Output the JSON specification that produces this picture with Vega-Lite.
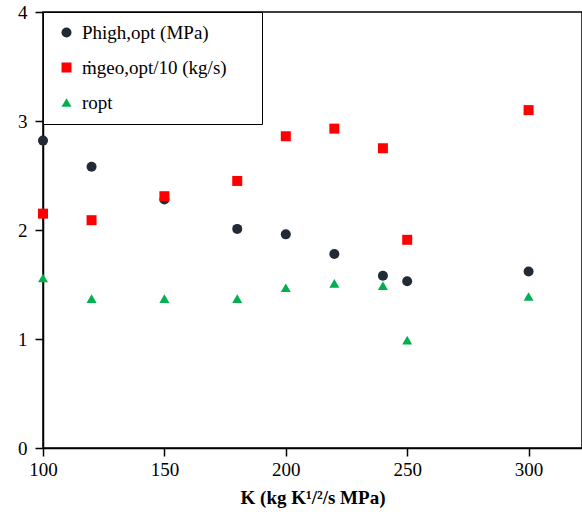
{
  "$schema": "https://vega.github.io/schema/vega-lite/v6.json",
  "autosize": "none",
  "width": 539,
  "height": 436,
  "padding": {"left": 43, "top": 12, "right": 0, "bottom": 71},
  "background": "white",
  "config": {
    "font": "Liberation Serif",
    "view": {"stroke": "black", "strokeWidth": 1.5}
  },
  "data": {
    "values": [
      {"K": 100, "series": "P", "value": 2.82},
      {"K": 120, "series": "P", "value": 2.58},
      {"K": 150, "series": "P", "value": 2.28},
      {"K": 180, "series": "P", "value": 2.01},
      {"K": 200, "series": "P", "value": 1.96},
      {"K": 220, "series": "P", "value": 1.78},
      {"K": 240, "series": "P", "value": 1.58},
      {"K": 250, "series": "P", "value": 1.53},
      {"K": 300, "series": "P", "value": 1.62},
      {"K": 100, "series": "m", "value": 2.15},
      {"K": 120, "series": "m", "value": 2.09},
      {"K": 150, "series": "m", "value": 2.31},
      {"K": 180, "series": "m", "value": 2.45},
      {"K": 200, "series": "m", "value": 2.86},
      {"K": 220, "series": "m", "value": 2.93},
      {"K": 240, "series": "m", "value": 2.75},
      {"K": 250, "series": "m", "value": 1.91},
      {"K": 300, "series": "m", "value": 3.10},
      {"K": 100, "series": "r", "value": 1.56},
      {"K": 120, "series": "r", "value": 1.37},
      {"K": 150, "series": "r", "value": 1.37},
      {"K": 180, "series": "r", "value": 1.37},
      {"K": 200, "series": "r", "value": 1.47},
      {"K": 220, "series": "r", "value": 1.51},
      {"K": 240, "series": "r", "value": 1.49},
      {"K": 250, "series": "r", "value": 0.99},
      {"K": 300, "series": "r", "value": 1.39}
    ]
  },
  "mark": {"type": "point", "filled": true, "opacity": 1, "size": 100},
  "encoding": {
    "x": {
      "field": "K", "type": "quantitative",
      "scale": {"domain": [100, 322], "nice": false, "zero": false},
      "axis": {
        "values": [100, 150, 200, 250, 300],
        "title": "K (kg K¹/²/s MPa)",
        "titleFont": "Liberation Serif", "titleFontSize": 19, "titleFontWeight": "bold", "titleColor": "black",
        "titlePadding": 9,
        "labelFont": "Liberation Serif", "labelFontSize": 19, "labelColor": "black", "labelPadding": 4,
        "labelFlush": false,
        "grid": false, "domainColor": "black", "domainWidth": 1.5,
        "tickColor": "black", "tickWidth": 1.5, "tickSize": 8
      }
    },
    "y": {
      "field": "value", "type": "quantitative",
      "scale": {"domain": [0, 4], "nice": false},
      "axis": {
        "values": [0, 1, 2, 3, 4],
        "title": null,
        "labelFont": "Liberation Serif", "labelFontSize": 19, "labelColor": "black", "labelPadding": 8,
        "labelFlush": false,
        "grid": false, "domainColor": "black", "domainWidth": 1.5,
        "tickColor": "black", "tickWidth": 1.5, "tickSize": 8
      }
    },
    "color": {
      "field": "series", "type": "nominal",
      "scale": {"domain": ["P", "m", "r"], "range": ["#222a35", "#ff0000", "#00b050"]},
      "legend": {
        "title": null,
        "orient": "top-left",
        "offset": 0,
        "labelExpr": "datum.value == 'P' ? 'Phigh,opt (MPa)' : datum.value == 'm' ? 'ṁgeo,opt/10 (kg/s)\u00a0\u00a0\u00a0\u00a0\u00a0\u200b' : 'ropt'",
        "labelFont": "Liberation Serif", "labelFontSize": 19, "labelColor": "black",
        "labelOffset": 6, "labelLimit": 400,
        "symbolOffset": 3,
        "symbolSize": 100, "rowPadding": 15, "padding": 11,
        "strokeColor": "black", "fillColor": "white", "symbolOpacity": 1
      }
    },
    "shape": {
      "field": "series", "type": "nominal",
      "scale": {"domain": ["P", "m", "r"], "range": ["circle", "square", "triangle-up"]},
      "legend": null
    }
  }
}
